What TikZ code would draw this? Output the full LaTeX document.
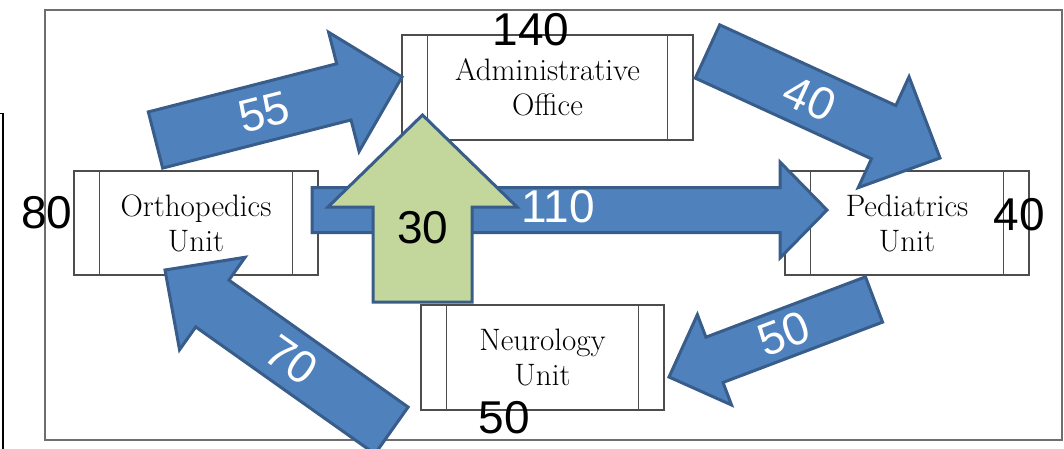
\documentclass[tikz,border=0pt]{standalone}
\usepackage{fontspec}
\newfontfamily\numfont{Liberation Sans}
\usetikzlibrary{calc}
\definecolor{abfill}{HTML}{4F81BD}
\definecolor{abdraw}{HTML}{385D8A}
\definecolor{agfill}{HTML}{C3D69B}
\definecolor{framegray}{HTML}{6E6E6E}
\definecolor{boxgray}{HTML}{4D4D4D}
% #1 style, #2 tail coordinate, #3 tip coordinate, #4 shaft half width, #5 head half width, #6 head length
\newcommand\blockarrow[6]{%
  \coordinate (#2-#3-n) at ($(#3)!#6!(#2)$);
  \draw[#1] ($(#2)!#4!90:(#3)$) -- ($(#2-#3-n)!#4!90:(#3)$) -- ($(#2-#3-n)!#5!90:(#3)$)
    -- (#3) -- ($(#2-#3-n)!#5!-90:(#3)$) -- ($(#2-#3-n)!#4!-90:(#3)$) -- ($(#2)!#4!-90:(#3)$) -- cycle;
}
\begin{document}
\begin{tikzpicture}[x=1pt,y=-1pt,
  unitbox/.style={draw=boxgray, line width=1.4pt, fill=white, inner sep=0pt,
    align=center, font=\fontsize{31}{35}\selectfont, text=black},
  innerline/.style={draw=boxgray, line width=1.4pt},
  bluearrow/.style={fill=abfill, draw=abdraw, line width=3pt, line join=miter},
  greenarrow/.style={fill=agfill, draw=abdraw, line width=3pt, line join=miter},
  numlabel/.style={inner sep=0pt, font=\numfont\fontsize{46}{46}\selectfont},
  numw/.style={numlabel, text=white},
  numk/.style={numlabel, text=black}]
\path[use as bounding box] (0,0) rectangle (1064,449);
\clip (0,0) rectangle (1064,449);
% frame and left line
\draw[framegray, line width=2pt] (45,10) rectangle (1062,440);
\draw[black, line width=1.6pt] (0,113.5) -- (3,113.5) -- (3,449);
% boxes
\node[unitbox, minimum width=244, minimum height=104] (ortho) at (196,223) {Orthopedics\\Unit};
\node[unitbox, minimum width=291, minimum height=105] (admin) at (547.5,87.5) {Administrative\\Office};
\node[unitbox, minimum width=244, minimum height=104] (pedia) at (907,223) {Pediatrics\\Unit};
\node[unitbox, minimum width=243, minimum height=105] (neuro) at (542.5,357.5) {Neurology\\Unit};
\foreach \b in {ortho,admin,pedia,neuro}{
  \draw[innerline] ([xshift=26pt]\b.north west) -- ([xshift=26pt]\b.south west);
  \draw[innerline] ([xshift=-26pt]\b.north east) -- ([xshift=-26pt]\b.south east);
}
% arrow end points
\coordinate (t55) at (155.5,140);   \coordinate (p55) at (402,77);
\coordinate (t40) at (707.5,51.5);  \coordinate (p40) at (940,158);
\coordinate (t110) at (312,210);    \coordinate (p110) at (827,210);
\coordinate (t50) at (874,299.5);   \coordinate (p50) at (669,377);
\coordinate (t70) at (391.5,430.5); \coordinate (p70) at (165,270);
\coordinate (t30) at (422.5,302);   \coordinate (p30) at (422.5,115);
% block arrows
\blockarrow{bluearrow}{t55}{p55}{29pt}{61.5pt}{60pt}
\blockarrow{bluearrow}{t40}{p40}{29.3pt}{61pt}{62pt}
\blockarrow{bluearrow}{t110}{p110}{22.5pt}{48pt}{47pt}
\blockarrow{bluearrow}{t50}{p50}{24.2pt}{48.3pt}{48.6pt}
\blockarrow{bluearrow}{t70}{p70}{28.7pt}{56.7pt}{58pt}
\blockarrow{greenarrow}{t30}{p30}{49.5pt}{94.5pt}{92pt}
% arrow labels
\node[numw, rotate=14.3] (l55) at ($(t55)!0.44!(p55)$) {55};
\node[numw, rotate=-24.6] (l40) at ($(t40)!0.44!(p40)$) {40};
\node[numw] (l110) at (558,207) {110};
\node[numw, rotate=20.7] (l50) at ($(t50)!0.44!(p50)$) {50};
\node[numw, rotate=-35.3] (l70) at ($(t70)!0.44!(p70)$) {70};
\node[numk] (l30) at (423,228) {30};
% totals
\node[numk] (n80) at (47,213) {80};
\node[numk] (n140) at (531,30) {140};
\node[numk] (n40) at (1019,215) {40};
\node[numk] (n50) at (504,418) {50};
\end{tikzpicture}
\end{document}
